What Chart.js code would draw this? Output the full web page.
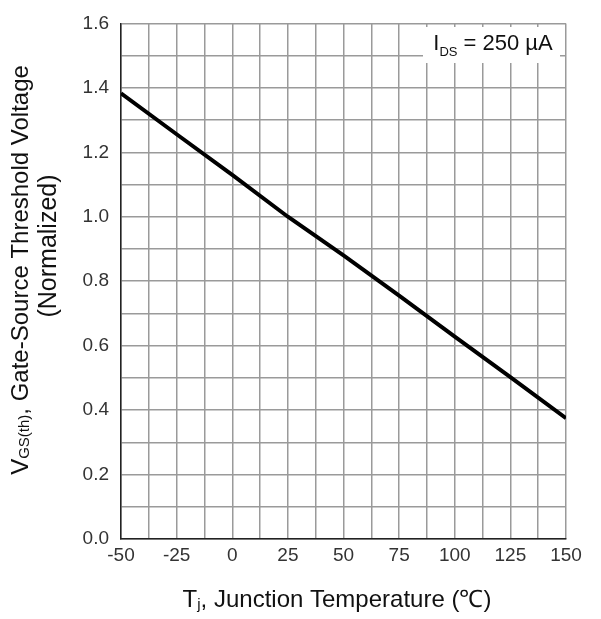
<!DOCTYPE html>
<html>
<head>
<meta charset="utf-8">
<script src="https://cdn.jsdelivr.net/npm/chart.js@4.4.1/dist/chart.umd.min.js"></script>
<style>
  html, body { margin: 0; padding: 0; background: #fff; }
  #wrap { width: 601px; height: 619px; }
</style>
</head>
<body>
<div id="wrap"><canvas id="myChart" width="601" height="619"></canvas></div>
<script>
// data
var temps = [-50, -25, 0, 25, 50, 75, 100, 125, 150];
var vgsNorm = [1.383, 1.256, 1.13, 1.0, 0.88, 0.755, 0.628, 0.502, 0.375];

var xTickLabels = ['-50', '-25', '0', '25', '50', '75', '100', '125', '150'];
var yTickLabels = ['0.0', '0.2', '0.4', '0.6', '0.8', '1.0', '1.2', '1.4', '1.6'];

var FONT = '"Liberation Sans", Arial, sans-serif';

// draws a string made of parts (some of them subscripts)
function drawSub(ctx, parts, x, y, align) {
    var w = 0;
    parts.forEach(function (p) {
        ctx.font = p.size + 'px ' + FONT;
        p.w = ctx.measureText(p.t).width;
        w += p.w;
    });
    var cx = align === 'center' ? x - w / 2 : x;
    parts.forEach(function (p) {
        ctx.font = p.size + 'px ' + FONT;
        ctx.fillText(p.t, cx, y + (p.dy || 0));
        cx += p.w;
    });
}

var extraText = {
    id: 'extraText',
    afterDraw: function (chart) {
        var ctx = chart.ctx;
        ctx.save();
        ctx.textAlign = 'left';
        ctx.textBaseline = 'middle';

        // label box, top right
        ctx.fillStyle = '#fff';
        ctx.fillRect(423, 27, 137, 36);
        ctx.fillStyle = '#111';
        drawSub(ctx, [
            {t: 'I', size: 22},
            {t: 'DS', size: 13, dy: 8},
            {t: ' = 250 \u00b5A', size: 22}
        ], 493, 44, 'center');

        // x title
        drawSub(ctx, [
            {t: 'T', size: 24},
            {t: 'j', size: 15, dy: 5},
            {t: ', Junction Temperature (\u2103)', size: 24}
        ], 337, 600, 'center');

        // y title, two lines
        ctx.translate(21, 270);
        ctx.rotate(-Math.PI / 2);
        drawSub(ctx, [
            {t: 'V', size: 24},
            {t: 'GS(th)', size: 15, dy: 4},
            {t: ', Gate-Source Threshold Voltage', size: 24}
        ], 0, 0, 'center');
        ctx.restore();

        ctx.save();
        ctx.fillStyle = '#111';
        ctx.textBaseline = 'middle';
        ctx.translate(49, 246);
        ctx.rotate(-Math.PI / 2);
        drawSub(ctx, [{t: '(Normalized)', size: 25}], 0, 0, 'center');
        ctx.restore();
    }
};

new Chart(document.getElementById('myChart'), {
    type: 'line',
    data: {
        labels: temps,
        datasets: [{
            data: temps.map(function (t, i) { return {x: t, y: vgsNorm[i]}; }),
            borderColor: '#000',
            borderWidth: 4,
            pointRadius: 0,
            tension: 0,
            fill: false
        }]
    },
    options: {
        responsive: false,
        animation: false,
        layout: { padding: { left: 0, right: 35, top: 18, bottom: 0 } },
        plugins: {
            legend: { display: false },
            tooltip: { enabled: false }
        },
        scales: {
            x: {
                type: 'linear',
                min: -50,
                max: 150,
                afterFit: function (s) { s.height = 80; },
                grid: { color: '#9a9a9a', lineWidth: 1.5, drawTicks: false },
                border: { color: '#222', width: 1.5 },
                ticks: {
                    stepSize: 12.5,
                    autoSkip: false,
                    maxRotation: 0,
                    padding: 5,
                    color: '#333',
                    font: { family: FONT, size: 19 },
                    callback: function (v) {
                        var i = (v + 50) / 25;
                        return Number.isInteger(i) ? xTickLabels[i] : '';
                    }
                }
            },
            y: {
                min: 0,
                max: 1.6,
                afterFit: function (s) { s.width = 121; },
                grid: { color: '#9a9a9a', lineWidth: 1.5, drawTicks: false },
                border: { color: '#222', width: 1.5 },
                ticks: {
                    stepSize: 0.1,
                    autoSkip: false,
                    padding: 12,
                    color: '#333',
                    font: { family: FONT, size: 19 },
                    callback: function (v) {
                        var i = Math.round(v * 10);
                        return i % 2 === 0 ? yTickLabels[i / 2] : '';
                    }
                }
            }
        }
    },
    plugins: [extraText]
});
</script>
</body>
</html>
